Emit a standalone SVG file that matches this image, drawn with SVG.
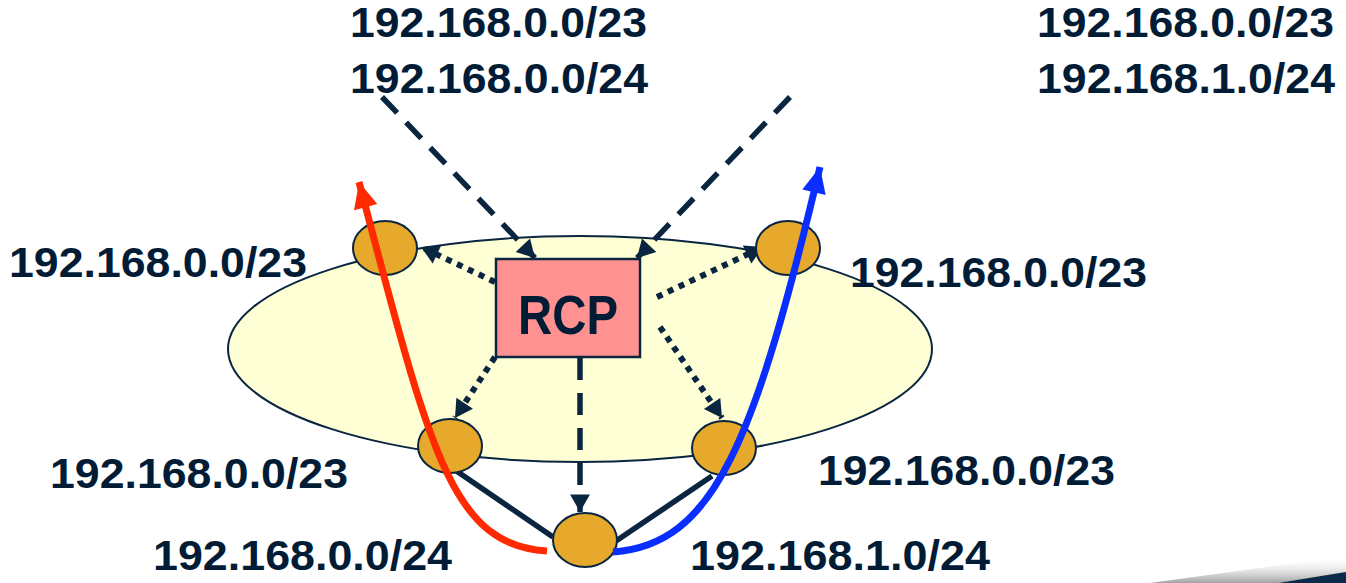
<svg xmlns="http://www.w3.org/2000/svg" width="1346" height="583" viewBox="0 0 1346 583">
<style>
  .lbl{font-family:"Liberation Sans",Arial,sans-serif;font-weight:bold;font-size:43px;fill:#021C36}
  .node{fill:#E6A92B;stroke:#0A2540;stroke-width:2}
  .dash{fill:none;stroke:#0A2540;stroke-width:5.5;stroke-dasharray:22 13}
  .dot{fill:none;stroke:#0A2540;stroke-width:6;stroke-dasharray:6 6}
  .solid{fill:none;stroke:#0A2540;stroke-width:5.5}
</style>
<defs>
  <marker id="ah" markerUnits="userSpaceOnUse" markerWidth="22" markerHeight="22" viewBox="-18 -10 20 20" refX="0" refY="0" orient="auto">
    <path d="M0,0 L-16,-9 L-16,9 Z" fill="#0A2540"/>
  </marker>
  <marker id="ahRed" markerUnits="userSpaceOnUse" markerWidth="30" markerHeight="30" viewBox="-27 -14 30 28" refX="0" refY="0" orient="auto">
    <path d="M0,0 L-26,-12 L-26,12 Z" fill="#FF2A00"/>
  </marker>
  <marker id="ahBlue" markerUnits="userSpaceOnUse" markerWidth="30" markerHeight="30" viewBox="-27 -14 30 28" refX="0" refY="0" orient="auto">
    <path d="M0,0 L-26,-12 L-26,12 Z" fill="#0A2EFF"/>
  </marker>
  <linearGradient id="shadow" x1="0" y1="0" x2="0" y2="1">
    <stop offset="0" stop-color="#ffffff" stop-opacity="0"/>
    <stop offset="1" stop-color="#8a8a8a" stop-opacity="0.8"/>
  </linearGradient>
</defs>
<rect width="1346" height="583" fill="#ffffff"/>

<g id="decoration">
  <polygon points="1150,583 1346,556 1346,573 1278,583" fill="url(#shadow)"/>
  <polygon points="1278,583 1346,572 1346,583" fill="#0A2A4A"/>
</g>

<g id="domain">
  <ellipse cx="580" cy="349" rx="352" ry="113" fill="#FFFFD6" stroke="#0A2540" stroke-width="2"/>
</g>

<g id="connectors">
  <line class="dash" x1="382" y1="97" x2="535" y2="258" marker-end="url(#ah)"/>
  <line class="dash" x1="790" y1="97" x2="637" y2="258" marker-end="url(#ah)"/>
  <line class="dash" x1="580" y1="358" x2="580" y2="512" marker-end="url(#ah)"/>
  <line class="dot" x1="495" y1="282" x2="421" y2="247" marker-end="url(#ah)"/>
  <line class="dot" x1="657" y1="297" x2="763" y2="247" marker-end="url(#ah)"/>
  <line class="dot" x1="495" y1="357" x2="455" y2="418" marker-end="url(#ah)"/>
  <line class="dot" x1="660" y1="327" x2="722" y2="418" marker-end="url(#ah)"/>
  <line class="solid" x1="455" y1="470" x2="553" y2="537"/>
  <line class="solid" x1="712" y1="476" x2="616" y2="541"/>
</g>

<g id="rcp">
  <rect x="496" y="259" width="144" height="98" fill="#FF9191" stroke="#0A2540" stroke-width="2.5"/>
  <text x="568" y="334" text-anchor="middle" font-family="Liberation Sans, Arial, sans-serif" font-weight="bold" font-size="56" fill="#021C36" textLength="100" lengthAdjust="spacingAndGlyphs">RCP</text>
</g>

<g id="node-tl"><ellipse class="node" cx="385" cy="248" rx="32" ry="27"/></g>
<g id="node-tr"><ellipse class="node" cx="788" cy="248" rx="32" ry="27"/></g>
<g id="node-bl"><ellipse class="node" cx="450" cy="446" rx="32" ry="27"/></g>
<g id="node-br"><ellipse class="node" cx="724" cy="448" rx="32" ry="27"/></g>
<g id="node-b"><ellipse class="node" cx="585" cy="540" rx="32" ry="27"/></g>

<g id="paths">
  <path d="M547,551 C450,545 430,450 359,182" fill="none" stroke="#FF2A00" stroke-width="7" marker-end="url(#ahRed)"/>
  <path d="M613,552 C715,545 755,440 820,167" fill="none" stroke="#0A2EFF" stroke-width="7" marker-end="url(#ahBlue)"/>
</g>

<g id="labels">
  <text class="lbl" x="350" y="37" textLength="297" lengthAdjust="spacingAndGlyphs">192.168.0.0/23</text>
  <text class="lbl" x="350" y="93" textLength="298" lengthAdjust="spacingAndGlyphs">192.168.0.0/24</text>
  <text class="lbl" x="1037" y="37" textLength="297" lengthAdjust="spacingAndGlyphs">192.168.0.0/23</text>
  <text class="lbl" x="1037" y="93" textLength="298" lengthAdjust="spacingAndGlyphs">192.168.1.0/24</text>
  <text class="lbl" x="9" y="277" textLength="298" lengthAdjust="spacingAndGlyphs">192.168.0.0/23</text>
  <text class="lbl" x="850" y="287" textLength="297" lengthAdjust="spacingAndGlyphs">192.168.0.0/23</text>
  <text class="lbl" x="50" y="488" textLength="298" lengthAdjust="spacingAndGlyphs">192.168.0.0/23</text>
  <text class="lbl" x="818" y="485" textLength="297" lengthAdjust="spacingAndGlyphs">192.168.0.0/23</text>
  <text class="lbl" x="153" y="570" textLength="299" lengthAdjust="spacingAndGlyphs">192.168.0.0/24</text>
  <text class="lbl" x="690" y="570" textLength="300" lengthAdjust="spacingAndGlyphs">192.168.1.0/24</text>
</g>
</svg>
